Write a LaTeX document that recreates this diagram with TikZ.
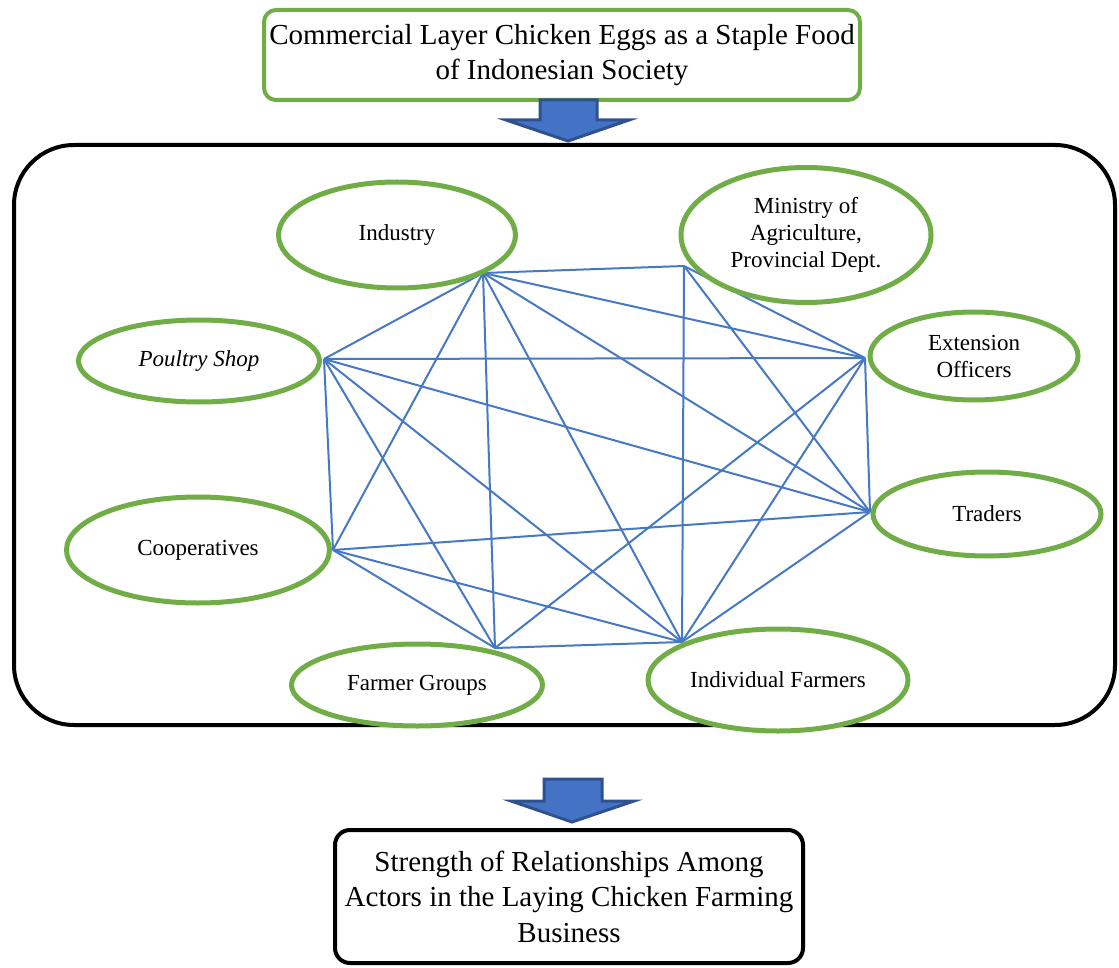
\documentclass[tikz,border=0pt]{standalone}
\usepackage{fontspec}
\setmainfont{Liberation Serif}
\usetikzlibrary{shapes.geometric}
\definecolor{egreen}{RGB}{112,173,71}
\definecolor{eblue}{RGB}{70,120,195}
\definecolor{afill}{RGB}{68,114,196}
\definecolor{aedge}{RGB}{47,82,143}
\tikzset{
  actor/.style={ellipse, draw=egreen, line width=5pt, fill=white, inner sep=0pt, align=center, font=\fontsize{23}{27}\selectfont},
  link/.style={draw=eblue, line width=2pt},
  bigarrow/.style={fill=afill, draw=aedge, line width=3pt, line join=miter},
}
\begin{document}
\begin{tikzpicture}[x=1pt,y=-1pt]
\useasboundingbox (0,0) rectangle (1119,968);
% big frame
\draw[line width=4pt, rounded corners=60pt] (14,145) rectangle (1115,725);
% hub points
\coordinate (hI) at (483,273);
\coordinate (hM) at (684,266);
\coordinate (hE) at (865,358);
\coordinate (hT) at (870,512);
\coordinate (hP) at (324,359);
\coordinate (hC) at (333,550);
\coordinate (hG) at (495,648);
\coordinate (hF) at (682,642);
% links
\foreach \a/\b in {hI/hM,hI/hE,hI/hT,hI/hF,hI/hG,hI/hC,hI/hP,
                   hP/hE,hP/hT,hP/hF,hP/hG,hP/hC,
                   hC/hT,hC/hF,hC/hG,
                   hG/hE,hG/hF,
                   hF/hM,hF/hE,hF/hT,
                   hE/hM,hE/hT,hT/hM}
  \draw[link] (\a) -- (\b);
% actors
\node[actor, minimum width=237pt, minimum height=106pt] (ind) at (397,235) {Industry};
\node[actor, minimum width=250pt, minimum height=135pt] (min) at (806,235) {Ministry of\\Agriculture,\\Provincial Dept.};
\node[actor, minimum width=208pt, minimum height=88pt] (ext) at (974,356) {Extension\\Officers};
\node[actor, minimum width=228pt, minimum height=84pt] (tra) at (987,514) {Traders};
\node[actor, minimum width=241pt, minimum height=82pt] (pou) at (199,361) {\itshape Poultry Shop};
\node[actor, minimum width=263pt, minimum height=106pt] (coo) at (198,550) {Cooperatives};
\node[actor, minimum width=251pt, minimum height=82pt] (fgr) at (417,685) {Farmer Groups};
\node[actor, minimum width=260pt, minimum height=102pt] (ifa) at (778,680) {Individual Farmers};
% top box
\node[draw=egreen, line width=4pt, rounded corners=12pt, minimum width=596pt, minimum height=90pt, align=center, inner sep=0pt, font=\fontsize{29}{35}\selectfont] (top) at (562,55) {Commercial Layer Chicken Eggs as a Staple Food\\of Indonesian Society};
% bottom box
\node[draw=black, line width=4pt, rounded corners=15pt, minimum width=468pt, minimum height=133pt, align=center, inner sep=0pt, font=\fontsize{29}{35.5}\selectfont] (bot) at (569,896.5) {Strength of Relationships Among\\Actors in the Laying Chicken Farming\\Business};
% arrows
\draw[bigarrow] (540,100) -- (597,100) -- (597,120) -- (629,120) -- (568,141) -- (506,120) -- (540,120) -- cycle;
\draw[bigarrow] (544,779) -- (602,779) -- (602,801) -- (634,801) -- (572,822) -- (511,801) -- (544,801) -- cycle;
\end{tikzpicture}
\end{document}
